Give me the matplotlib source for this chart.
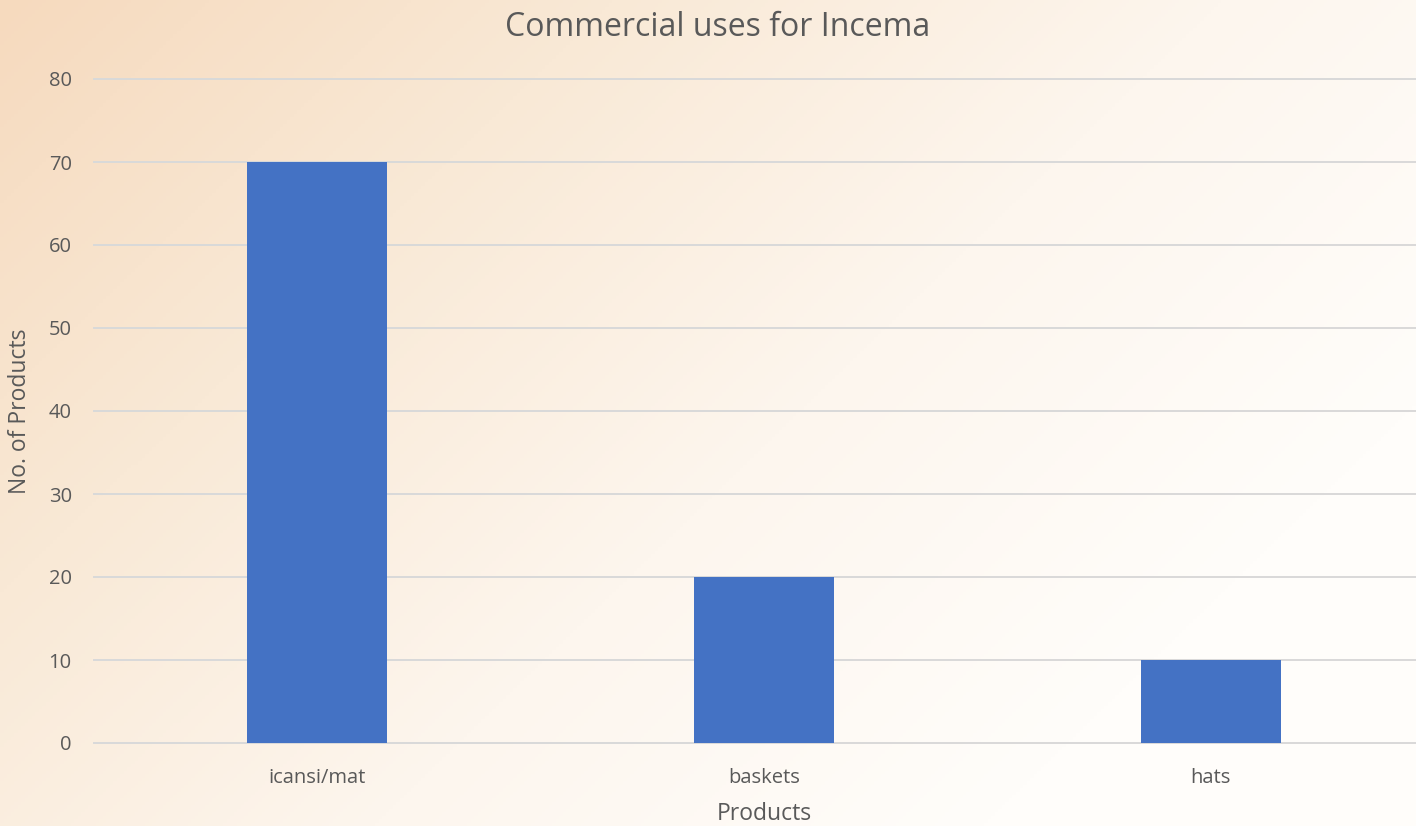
import numpy as np
import matplotlib.pyplot as plt
from matplotlib.colors import LinearSegmentedColormap

products = ["icansi/mat", "baskets", "hats"]
counts = [70, 20, 10]
y_ticks = [0, 10, 20, 30, 40, 50, 60, 70, 80]

plt.rcParams['font.family'] = ['Open Sans', 'DejaVu Sans']
text_color = "#595959"

fig = plt.figure(figsize=(14.16, 8.26), dpi=100)

# diagonal peach-to-white background
bg = fig.add_axes([0, 0, 1, 1], zorder=-10)
gx, gy = np.meshgrid(np.linspace(0, 1, 400), np.linspace(0, 1, 240))
grad = np.clip((gx * 1.0 + gy * 0.6) / 1.3, 0, 1)
cmap = LinearSegmentedColormap.from_list(
    "bg", ["#F6DABE", "#F9E9D6", "#FDF6EE", "#FFFDFA"])
bg.imshow(grad, cmap=cmap, aspect="auto", extent=[0, 1, 0, 1], origin="upper")
bg.axis("off")

ax = fig.add_axes([94 / 1416, 83 / 826, 1 - 94 / 1416, (743 - 79) / 826])
ax.patch.set_alpha(0)
x = np.arange(len(products))
ax.bar(x, counts, width=0.313, color="#4472C4", zorder=3)

ax.set_xlim(-0.5, 2.459)
ax.set_ylim(0, 80)
ax.set_yticks(y_ticks)
ax.set_xticks(x)
ax.set_xticklabels(products)
ax.grid(axis="y", color="#D9D9D9", linewidth=1.4, zorder=0)
for line in ax.get_ygridlines():
    line.set_clip_on(False)
ax.set_axisbelow(True)
for s in ax.spines.values():
    s.set_visible(False)
ax.tick_params(length=0, labelsize=14.5, colors=text_color)
ax.tick_params(axis="x", pad=18)
ax.tick_params(axis="y", pad=16)

ax.set_xlabel("Products", fontsize=16.5, color=text_color)
ax.xaxis.set_label_coords((764 - 94) / 1322, -(802 - 743) / 664)
ax.set_ylabel("No. of Products", fontsize=16.5, color=text_color, labelpad=12)
fig.text(718 / 1416, 1 - 28 / 826, "Commercial uses for Incema", ha="center", va="center",
         fontsize=23, color=text_color)

fig.savefig("out.png", dpi=100)
